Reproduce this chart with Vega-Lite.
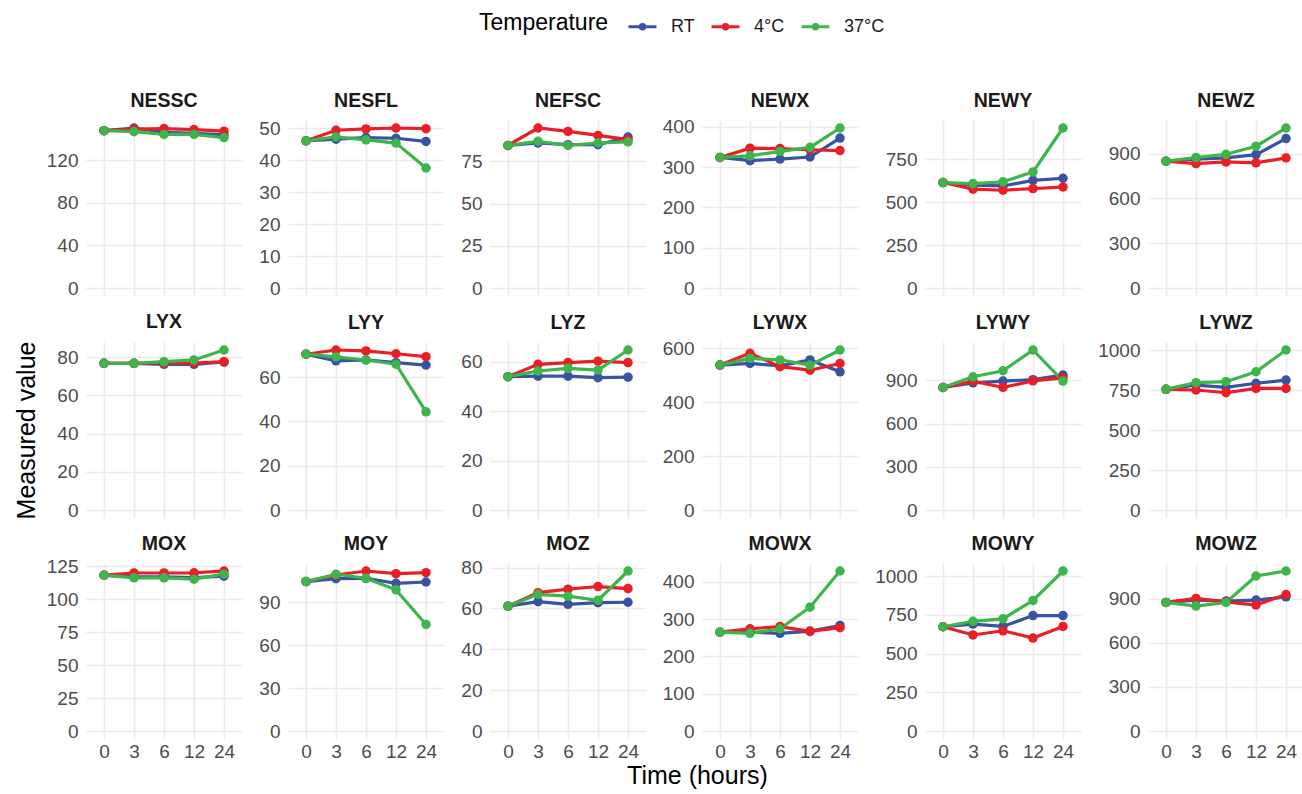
{
"$schema":"https://vega.github.io/schema/vega-lite/v6.json",
"padding":{"left":14,"top":11,"right":0,"bottom":0},
"background":"white",
"data":{"values":[
{"panel":"NESSC","temp":"RT","time":"0","value":148},{"panel":"NESSC","temp":"RT","time":"3","value":150.5},{"panel":"NESSC","temp":"RT","time":"6","value":146.5},{"panel":"NESSC","temp":"RT","time":"12","value":145.5},{"panel":"NESSC","temp":"RT","time":"24","value":144},
{"panel":"NESSC","temp":"4°C","time":"0","value":148},{"panel":"NESSC","temp":"4°C","time":"3","value":149.5},{"panel":"NESSC","temp":"4°C","time":"6","value":150},{"panel":"NESSC","temp":"4°C","time":"12","value":149},{"panel":"NESSC","temp":"4°C","time":"24","value":147.5},
{"panel":"NESSC","temp":"37°C","time":"0","value":148},{"panel":"NESSC","temp":"37°C","time":"3","value":147},{"panel":"NESSC","temp":"37°C","time":"6","value":144.5},{"panel":"NESSC","temp":"37°C","time":"12","value":144.5},{"panel":"NESSC","temp":"37°C","time":"24","value":141.5},
{"panel":"NESFL","temp":"RT","time":"0","value":46},{"panel":"NESFL","temp":"RT","time":"3","value":46.5},{"panel":"NESFL","temp":"RT","time":"6","value":47},{"panel":"NESFL","temp":"RT","time":"12","value":46.8},{"panel":"NESFL","temp":"RT","time":"24","value":45.8},
{"panel":"NESFL","temp":"4°C","time":"0","value":46},{"panel":"NESFL","temp":"4°C","time":"3","value":49.3},{"panel":"NESFL","temp":"4°C","time":"6","value":49.7},{"panel":"NESFL","temp":"4°C","time":"12","value":50},{"panel":"NESFL","temp":"4°C","time":"24","value":49.8},
{"panel":"NESFL","temp":"37°C","time":"0","value":46},{"panel":"NESFL","temp":"37°C","time":"3","value":47.2},{"panel":"NESFL","temp":"37°C","time":"6","value":46.3},{"panel":"NESFL","temp":"37°C","time":"12","value":45.3},{"panel":"NESFL","temp":"37°C","time":"24","value":37.5},
{"panel":"NEFSC","temp":"RT","time":"0","value":84.5},{"panel":"NEFSC","temp":"RT","time":"3","value":85.9},{"panel":"NEFSC","temp":"RT","time":"6","value":84.9},{"panel":"NEFSC","temp":"RT","time":"12","value":84.9},{"panel":"NEFSC","temp":"RT","time":"24","value":89.4},
{"panel":"NEFSC","temp":"4°C","time":"0","value":84.5},{"panel":"NEFSC","temp":"4°C","time":"3","value":94.8},{"panel":"NEFSC","temp":"4°C","time":"6","value":92.8},{"panel":"NEFSC","temp":"4°C","time":"12","value":90.4},{"panel":"NEFSC","temp":"4°C","time":"24","value":87.9},
{"panel":"NEFSC","temp":"37°C","time":"0","value":84.5},{"panel":"NEFSC","temp":"37°C","time":"3","value":86.9},{"panel":"NEFSC","temp":"37°C","time":"6","value":84.5},{"panel":"NEFSC","temp":"37°C","time":"12","value":85.9},{"panel":"NEFSC","temp":"37°C","time":"24","value":86.5},
{"panel":"NEWX","temp":"RT","time":"0","value":324},{"panel":"NEWX","temp":"RT","time":"3","value":316},{"panel":"NEWX","temp":"RT","time":"6","value":320},{"panel":"NEWX","temp":"RT","time":"12","value":325},{"panel":"NEWX","temp":"RT","time":"24","value":372},
{"panel":"NEWX","temp":"4°C","time":"0","value":324},{"panel":"NEWX","temp":"4°C","time":"3","value":347},{"panel":"NEWX","temp":"4°C","time":"6","value":346},{"panel":"NEWX","temp":"4°C","time":"12","value":343},{"panel":"NEWX","temp":"4°C","time":"24","value":341},
{"panel":"NEWX","temp":"37°C","time":"0","value":324},{"panel":"NEWX","temp":"37°C","time":"3","value":328},{"panel":"NEWX","temp":"37°C","time":"6","value":339},{"panel":"NEWX","temp":"37°C","time":"12","value":349},{"panel":"NEWX","temp":"37°C","time":"24","value":397},
{"panel":"NEWY","temp":"RT","time":"0","value":615},{"panel":"NEWY","temp":"RT","time":"3","value":600},{"panel":"NEWY","temp":"RT","time":"6","value":595},{"panel":"NEWY","temp":"RT","time":"12","value":628},{"panel":"NEWY","temp":"RT","time":"24","value":640},
{"panel":"NEWY","temp":"4°C","time":"0","value":615},{"panel":"NEWY","temp":"4°C","time":"3","value":576},{"panel":"NEWY","temp":"4°C","time":"6","value":570},{"panel":"NEWY","temp":"4°C","time":"12","value":580},{"panel":"NEWY","temp":"4°C","time":"24","value":589},
{"panel":"NEWY","temp":"37°C","time":"0","value":615},{"panel":"NEWY","temp":"37°C","time":"3","value":609},{"panel":"NEWY","temp":"37°C","time":"6","value":619},{"panel":"NEWY","temp":"37°C","time":"12","value":677},{"panel":"NEWY","temp":"37°C","time":"24","value":933},
{"panel":"NEWZ","temp":"RT","time":"0","value":849},{"panel":"NEWZ","temp":"RT","time":"3","value":862},{"panel":"NEWZ","temp":"RT","time":"6","value":871},{"panel":"NEWZ","temp":"RT","time":"12","value":893},{"panel":"NEWZ","temp":"RT","time":"24","value":1000},
{"panel":"NEWZ","temp":"4°C","time":"0","value":849},{"panel":"NEWZ","temp":"4°C","time":"3","value":833},{"panel":"NEWZ","temp":"4°C","time":"6","value":844},{"panel":"NEWZ","temp":"4°C","time":"12","value":838},{"panel":"NEWZ","temp":"4°C","time":"24","value":871},
{"panel":"NEWZ","temp":"37°C","time":"0","value":849},{"panel":"NEWZ","temp":"37°C","time":"3","value":873},{"panel":"NEWZ","temp":"37°C","time":"6","value":895},{"panel":"NEWZ","temp":"37°C","time":"12","value":949},{"panel":"NEWZ","temp":"37°C","time":"24","value":1071},
{"panel":"LYX","temp":"RT","time":"0","value":76.8},{"panel":"LYX","temp":"RT","time":"3","value":76.8},{"panel":"LYX","temp":"RT","time":"6","value":76.3},{"panel":"LYX","temp":"RT","time":"12","value":76.3},{"panel":"LYX","temp":"RT","time":"24","value":77.5},
{"panel":"LYX","temp":"4°C","time":"0","value":76.8},{"panel":"LYX","temp":"4°C","time":"3","value":76.8},{"panel":"LYX","temp":"4°C","time":"6","value":77},{"panel":"LYX","temp":"4°C","time":"12","value":77},{"panel":"LYX","temp":"4°C","time":"24","value":77.7},
{"panel":"LYX","temp":"37°C","time":"0","value":76.8},{"panel":"LYX","temp":"37°C","time":"3","value":76.8},{"panel":"LYX","temp":"37°C","time":"6","value":77.7},{"panel":"LYX","temp":"37°C","time":"12","value":78.6},{"panel":"LYX","temp":"37°C","time":"24","value":83.8},
{"panel":"LYY","temp":"RT","time":"0","value":70.3},{"panel":"LYY","temp":"RT","time":"3","value":67.3},{"panel":"LYY","temp":"RT","time":"6","value":67.7},{"panel":"LYY","temp":"RT","time":"12","value":66.5},{"panel":"LYY","temp":"RT","time":"24","value":65.4},
{"panel":"LYY","temp":"4°C","time":"0","value":70.3},{"panel":"LYY","temp":"4°C","time":"3","value":72.2},{"panel":"LYY","temp":"4°C","time":"6","value":71.8},{"panel":"LYY","temp":"4°C","time":"12","value":70.5},{"panel":"LYY","temp":"4°C","time":"24","value":69.2},
{"panel":"LYY","temp":"37°C","time":"0","value":70.3},{"panel":"LYY","temp":"37°C","time":"3","value":69.1},{"panel":"LYY","temp":"37°C","time":"6","value":67.7},{"panel":"LYY","temp":"37°C","time":"12","value":65.8},{"panel":"LYY","temp":"37°C","time":"24","value":44.3},
{"panel":"LYZ","temp":"RT","time":"0","value":53.9},{"panel":"LYZ","temp":"RT","time":"3","value":54.1},{"panel":"LYZ","temp":"RT","time":"6","value":54.1},{"panel":"LYZ","temp":"RT","time":"12","value":53.5},{"panel":"LYZ","temp":"RT","time":"24","value":53.7},
{"panel":"LYZ","temp":"4°C","time":"0","value":53.9},{"panel":"LYZ","temp":"4°C","time":"3","value":58.9},{"panel":"LYZ","temp":"4°C","time":"6","value":59.6},{"panel":"LYZ","temp":"4°C","time":"12","value":60.2},{"panel":"LYZ","temp":"4°C","time":"24","value":59.6},
{"panel":"LYZ","temp":"37°C","time":"0","value":53.9},{"panel":"LYZ","temp":"37°C","time":"3","value":56.2},{"panel":"LYZ","temp":"37°C","time":"6","value":57.3},{"panel":"LYZ","temp":"37°C","time":"12","value":56.6},{"panel":"LYZ","temp":"37°C","time":"24","value":64.7},
{"panel":"LYWX","temp":"RT","time":"0","value":538},{"panel":"LYWX","temp":"RT","time":"3","value":544},{"panel":"LYWX","temp":"RT","time":"6","value":535},{"panel":"LYWX","temp":"RT","time":"12","value":557},{"panel":"LYWX","temp":"RT","time":"24","value":513},
{"panel":"LYWX","temp":"4°C","time":"0","value":538},{"panel":"LYWX","temp":"4°C","time":"3","value":582},{"panel":"LYWX","temp":"4°C","time":"6","value":532},{"panel":"LYWX","temp":"4°C","time":"12","value":519},{"panel":"LYWX","temp":"4°C","time":"24","value":544},
{"panel":"LYWX","temp":"37°C","time":"0","value":538},{"panel":"LYWX","temp":"37°C","time":"3","value":563},{"panel":"LYWX","temp":"37°C","time":"6","value":557},{"panel":"LYWX","temp":"37°C","time":"12","value":538},{"panel":"LYWX","temp":"37°C","time":"24","value":594},
{"panel":"LYWY","temp":"RT","time":"0","value":851},{"panel":"LYWY","temp":"RT","time":"3","value":883},{"panel":"LYWY","temp":"RT","time":"6","value":895},{"panel":"LYWY","temp":"RT","time":"12","value":905},{"panel":"LYWY","temp":"RT","time":"24","value":937},
{"panel":"LYWY","temp":"4°C","time":"0","value":851},{"panel":"LYWY","temp":"4°C","time":"3","value":895},{"panel":"LYWY","temp":"4°C","time":"6","value":851},{"panel":"LYWY","temp":"4°C","time":"12","value":897},{"panel":"LYWY","temp":"4°C","time":"24","value":918},
{"panel":"LYWY","temp":"37°C","time":"0","value":851},{"panel":"LYWY","temp":"37°C","time":"3","value":925},{"panel":"LYWY","temp":"37°C","time":"6","value":967},{"panel":"LYWY","temp":"37°C","time":"12","value":1111},{"panel":"LYWY","temp":"37°C","time":"24","value":895},
{"panel":"LYWZ","temp":"RT","time":"0","value":754},{"panel":"LYWZ","temp":"RT","time":"3","value":781},{"panel":"LYWZ","temp":"RT","time":"6","value":767},{"panel":"LYWZ","temp":"RT","time":"12","value":792},{"panel":"LYWZ","temp":"RT","time":"24","value":812},
{"panel":"LYWZ","temp":"4°C","time":"0","value":754},{"panel":"LYWZ","temp":"4°C","time":"3","value":750},{"panel":"LYWZ","temp":"4°C","time":"6","value":733},{"panel":"LYWZ","temp":"4°C","time":"12","value":760},{"panel":"LYWZ","temp":"4°C","time":"24","value":760},
{"panel":"LYWZ","temp":"37°C","time":"0","value":754},{"panel":"LYWZ","temp":"37°C","time":"3","value":796},{"panel":"LYWZ","temp":"37°C","time":"6","value":802},{"panel":"LYWZ","temp":"37°C","time":"12","value":864},{"panel":"LYWZ","temp":"37°C","time":"24","value":1000},
{"panel":"MOX","temp":"RT","time":"0","value":118.2},{"panel":"MOX","temp":"RT","time":"3","value":117},{"panel":"MOX","temp":"RT","time":"6","value":117},{"panel":"MOX","temp":"RT","time":"12","value":116.4},{"panel":"MOX","temp":"RT","time":"24","value":117.5},
{"panel":"MOX","temp":"4°C","time":"0","value":118.2},{"panel":"MOX","temp":"4°C","time":"3","value":119.9},{"panel":"MOX","temp":"4°C","time":"6","value":119.9},{"panel":"MOX","temp":"4°C","time":"12","value":120},{"panel":"MOX","temp":"4°C","time":"24","value":121.4},
{"panel":"MOX","temp":"37°C","time":"0","value":118.2},{"panel":"MOX","temp":"37°C","time":"3","value":116.2},{"panel":"MOX","temp":"37°C","time":"6","value":116.2},{"panel":"MOX","temp":"37°C","time":"12","value":115.2},{"panel":"MOX","temp":"37°C","time":"24","value":119},
{"panel":"MOY","temp":"RT","time":"0","value":104.6},{"panel":"MOY","temp":"RT","time":"3","value":106.6},{"panel":"MOY","temp":"RT","time":"6","value":106.9},{"panel":"MOY","temp":"RT","time":"12","value":103.4},{"panel":"MOY","temp":"RT","time":"24","value":104.3},
{"panel":"MOY","temp":"4°C","time":"0","value":104.6},{"panel":"MOY","temp":"4°C","time":"3","value":109.2},{"panel":"MOY","temp":"4°C","time":"6","value":112},{"panel":"MOY","temp":"4°C","time":"12","value":110.1},{"panel":"MOY","temp":"4°C","time":"24","value":110.8},
{"panel":"MOY","temp":"37°C","time":"0","value":104.6},{"panel":"MOY","temp":"37°C","time":"3","value":109.7},{"panel":"MOY","temp":"37°C","time":"6","value":106.9},{"panel":"MOY","temp":"37°C","time":"12","value":98.8},{"panel":"MOY","temp":"37°C","time":"24","value":74.6},
{"panel":"MOZ","temp":"RT","time":"0","value":61.1},{"panel":"MOZ","temp":"RT","time":"3","value":63.3},{"panel":"MOZ","temp":"RT","time":"6","value":62},{"panel":"MOZ","temp":"RT","time":"12","value":62.8},{"panel":"MOZ","temp":"RT","time":"24","value":63},
{"panel":"MOZ","temp":"4°C","time":"0","value":61.1},{"panel":"MOZ","temp":"4°C","time":"3","value":67.7},{"panel":"MOZ","temp":"4°C","time":"6","value":69.4},{"panel":"MOZ","temp":"4°C","time":"12","value":70.7},{"panel":"MOZ","temp":"4°C","time":"24","value":69.7},
{"panel":"MOZ","temp":"37°C","time":"0","value":61.1},{"panel":"MOZ","temp":"37°C","time":"3","value":66.9},{"panel":"MOZ","temp":"37°C","time":"6","value":66},{"panel":"MOZ","temp":"37°C","time":"12","value":64},{"panel":"MOZ","temp":"37°C","time":"24","value":78.3},
{"panel":"MOWX","temp":"RT","time":"0","value":265},{"panel":"MOWX","temp":"RT","time":"3","value":265},{"panel":"MOWX","temp":"RT","time":"6","value":262},{"panel":"MOWX","temp":"RT","time":"12","value":268},{"panel":"MOWX","temp":"RT","time":"24","value":283},
{"panel":"MOWX","temp":"4°C","time":"0","value":265},{"panel":"MOWX","temp":"4°C","time":"3","value":274},{"panel":"MOWX","temp":"4°C","time":"6","value":280},{"panel":"MOWX","temp":"4°C","time":"12","value":267},{"panel":"MOWX","temp":"4°C","time":"24","value":277},
{"panel":"MOWX","temp":"37°C","time":"0","value":265},{"panel":"MOWX","temp":"37°C","time":"3","value":262},{"panel":"MOWX","temp":"37°C","time":"6","value":274},{"panel":"MOWX","temp":"37°C","time":"12","value":332},{"panel":"MOWX","temp":"37°C","time":"24","value":429},
{"panel":"MOWY","temp":"RT","time":"0","value":673},{"panel":"MOWY","temp":"RT","time":"3","value":690},{"panel":"MOWY","temp":"RT","time":"6","value":675},{"panel":"MOWY","temp":"RT","time":"12","value":745},{"panel":"MOWY","temp":"RT","time":"24","value":745},
{"panel":"MOWY","temp":"4°C","time":"0","value":673},{"panel":"MOWY","temp":"4°C","time":"3","value":620},{"panel":"MOWY","temp":"4°C","time":"6","value":647},{"panel":"MOWY","temp":"4°C","time":"12","value":600},{"panel":"MOWY","temp":"4°C","time":"24","value":675},
{"panel":"MOWY","temp":"37°C","time":"0","value":673},{"panel":"MOWY","temp":"37°C","time":"3","value":708},{"panel":"MOWY","temp":"37°C","time":"6","value":724},{"panel":"MOWY","temp":"37°C","time":"12","value":843},{"panel":"MOWY","temp":"37°C","time":"24","value":1033},
{"panel":"MOWZ","temp":"RT","time":"0","value":876},{"panel":"MOWZ","temp":"RT","time":"3","value":892},{"panel":"MOWZ","temp":"RT","time":"6","value":885},{"panel":"MOWZ","temp":"RT","time":"12","value":892},{"panel":"MOWZ","temp":"RT","time":"24","value":914},
{"panel":"MOWZ","temp":"4°C","time":"0","value":876},{"panel":"MOWZ","temp":"4°C","time":"3","value":903},{"panel":"MOWZ","temp":"4°C","time":"6","value":880},{"panel":"MOWZ","temp":"4°C","time":"12","value":858},{"panel":"MOWZ","temp":"4°C","time":"24","value":930},
{"panel":"MOWZ","temp":"37°C","time":"0","value":876},{"panel":"MOWZ","temp":"37°C","time":"3","value":851},{"panel":"MOWZ","temp":"37°C","time":"6","value":876},{"panel":"MOWZ","temp":"37°C","time":"12","value":1056},{"panel":"MOWZ","temp":"37°C","time":"24","value":1090}
]},
"title":{"text":"Time (hours)","orient":"bottom","anchor":"middle","frame":"bounds","fontSize":25,"fontWeight":"normal","color":"#000000","offset":3,"dx":38},
"columns":6,
"spacing":{"row":13,"column":16},
"concat":[
{"title":{"text":"NESSC"},"width":156,"height":176,"transform":[{"filter":"datum.panel === 'NESSC'"}],"mark":{"type":"line","strokeWidth":3.2,"point":{"filled":true,"size":90,"opacity":1}},
 "encoding":{"x":{"field":"time","type":"ordinal","sort":null,"scale":{"domain":["0","3","6","12","24"],"padding":0.6},"axis":{"labels":false,"title":null}},
 "y":{"field":"value","type":"quantitative","scale":{"zero":true,"nice":false,"padding":8},"axis":{"values":[0,40,80,120],"title":null}},
 "color":{"field":"temp","type":"nominal","scale":{"domain":["RT","4°C","37°C"],"range":["#3A52A3","#EB1E25","#3DB54A"]},"legend":{"title":"Temperature","orient":"none","legendX":393,"legendY":-109,"direction":"horizontal","titleOrient":"left","titleFontSize":23,"titleFontWeight":"normal","titleColor":"#000000","titlePadding":18,"labelFontSize":18,"labelColor":"#1A1A1A","labelOffset":13,"columnPadding":10,"symbolType":"M-1,0L1,0M0.16,0A0.16,0.16,0,1,1,-0.16,0A0.16,0.16,0,1,1,0.16,0","symbolSize":780,"symbolStrokeWidth":3}}}},
{"title":{"text":"NESFL","dy":1.5},"width":156,"height":176,"transform":[{"filter":"datum.panel === 'NESFL'"}],"mark":{"type":"line","strokeWidth":3.2,"point":{"filled":true,"size":90,"opacity":1}},
 "encoding":{"x":{"field":"time","type":"ordinal","sort":null,"scale":{"domain":["0","3","6","12","24"],"padding":0.6},"axis":{"labels":false,"title":null}},
 "y":{"field":"value","type":"quantitative","scale":{"zero":true,"nice":false,"padding":8},"axis":{"values":[0,10,20,30,40,50],"title":null}},
 "color":{"field":"temp","type":"nominal","scale":{"domain":["RT","4°C","37°C"],"range":["#3A52A3","#EB1E25","#3DB54A"]}}}},
{"title":{"text":"NEFSC"},"width":156,"height":176,"transform":[{"filter":"datum.panel === 'NEFSC'"}],"mark":{"type":"line","strokeWidth":3.2,"point":{"filled":true,"size":90,"opacity":1}},
 "encoding":{"x":{"field":"time","type":"ordinal","sort":null,"scale":{"domain":["0","3","6","12","24"],"padding":0.6},"axis":{"labels":false,"title":null}},
 "y":{"field":"value","type":"quantitative","scale":{"zero":true,"nice":false,"padding":8},"axis":{"values":[0,25,50,75],"title":null}},
 "color":{"field":"temp","type":"nominal","scale":{"domain":["RT","4°C","37°C"],"range":["#3A52A3","#EB1E25","#3DB54A"]}}}},
{"title":{"text":"NEWX","dy":2.7},"width":156,"height":176,"transform":[{"filter":"datum.panel === 'NEWX'"}],"mark":{"type":"line","strokeWidth":3.2,"point":{"filled":true,"size":90,"opacity":1}},
 "encoding":{"x":{"field":"time","type":"ordinal","sort":null,"scale":{"domain":["0","3","6","12","24"],"padding":0.6},"axis":{"labels":false,"title":null}},
 "y":{"field":"value","type":"quantitative","scale":{"zero":true,"nice":false,"padding":8},"axis":{"values":[0,100,200,300,400],"title":null}},
 "color":{"field":"temp","type":"nominal","scale":{"domain":["RT","4°C","37°C"],"range":["#3A52A3","#EB1E25","#3DB54A"]}}}},
{"title":{"text":"NEWY"},"width":156,"height":176,"transform":[{"filter":"datum.panel === 'NEWY'"}],"mark":{"type":"line","strokeWidth":3.2,"point":{"filled":true,"size":90,"opacity":1}},
 "encoding":{"x":{"field":"time","type":"ordinal","sort":null,"scale":{"domain":["0","3","6","12","24"],"padding":0.6},"axis":{"labels":false,"title":null}},
 "y":{"field":"value","type":"quantitative","scale":{"zero":true,"nice":false,"padding":8},"axis":{"values":[0,250,500,750],"title":null}},
 "color":{"field":"temp","type":"nominal","scale":{"domain":["RT","4°C","37°C"],"range":["#3A52A3","#EB1E25","#3DB54A"]}}}},
{"title":{"text":"NEWZ"},"width":156,"height":176,"transform":[{"filter":"datum.panel === 'NEWZ'"}],"mark":{"type":"line","strokeWidth":3.2,"point":{"filled":true,"size":90,"opacity":1}},
 "encoding":{"x":{"field":"time","type":"ordinal","sort":null,"scale":{"domain":["0","3","6","12","24"],"padding":0.6},"axis":{"labels":false,"title":null}},
 "y":{"field":"value","type":"quantitative","scale":{"zero":true,"nice":false,"padding":8},"axis":{"values":[0,300,600,900],"title":null}},
 "color":{"field":"temp","type":"nominal","scale":{"domain":["RT","4°C","37°C"],"range":["#3A52A3","#EB1E25","#3DB54A"]}}}},
{"title":{"text":"LYX"},"width":156,"height":176,"transform":[{"filter":"datum.panel === 'LYX'"}],"mark":{"type":"line","strokeWidth":3.2,"point":{"filled":true,"size":90,"opacity":1}},
 "encoding":{"x":{"field":"time","type":"ordinal","sort":null,"scale":{"domain":["0","3","6","12","24"],"padding":0.6},"axis":{"labels":false,"title":null}},
 "y":{"field":"value","type":"quantitative","scale":{"zero":true,"nice":false,"padding":8},"axis":{"values":[0,20,40,60,80],"title":"Measured value","titlePadding":17}},
 "color":{"field":"temp","type":"nominal","scale":{"domain":["RT","4°C","37°C"],"range":["#3A52A3","#EB1E25","#3DB54A"]}}}},
{"title":{"text":"LYY"},"width":156,"height":176,"transform":[{"filter":"datum.panel === 'LYY'"}],"mark":{"type":"line","strokeWidth":3.2,"point":{"filled":true,"size":90,"opacity":1}},
 "encoding":{"x":{"field":"time","type":"ordinal","sort":null,"scale":{"domain":["0","3","6","12","24"],"padding":0.6},"axis":{"labels":false,"title":null}},
 "y":{"field":"value","type":"quantitative","scale":{"zero":true,"nice":false,"padding":8},"axis":{"values":[0,20,40,60],"title":null}},
 "color":{"field":"temp","type":"nominal","scale":{"domain":["RT","4°C","37°C"],"range":["#3A52A3","#EB1E25","#3DB54A"]}}}},
{"title":{"text":"LYZ"},"width":156,"height":176,"transform":[{"filter":"datum.panel === 'LYZ'"}],"mark":{"type":"line","strokeWidth":3.2,"point":{"filled":true,"size":90,"opacity":1}},
 "encoding":{"x":{"field":"time","type":"ordinal","sort":null,"scale":{"domain":["0","3","6","12","24"],"padding":0.6},"axis":{"labels":false,"title":null}},
 "y":{"field":"value","type":"quantitative","scale":{"zero":true,"nice":false,"padding":8},"axis":{"values":[0,20,40,60],"title":null}},
 "color":{"field":"temp","type":"nominal","scale":{"domain":["RT","4°C","37°C"],"range":["#3A52A3","#EB1E25","#3DB54A"]}}}},
{"title":{"text":"LYWX","dy":3.1},"width":156,"height":176,"transform":[{"filter":"datum.panel === 'LYWX'"}],"mark":{"type":"line","strokeWidth":3.2,"point":{"filled":true,"size":90,"opacity":1}},
 "encoding":{"x":{"field":"time","type":"ordinal","sort":null,"scale":{"domain":["0","3","6","12","24"],"padding":0.6},"axis":{"labels":false,"title":null}},
 "y":{"field":"value","type":"quantitative","scale":{"zero":true,"nice":false,"padding":8},"axis":{"values":[0,200,400,600],"title":null}},
 "color":{"field":"temp","type":"nominal","scale":{"domain":["RT","4°C","37°C"],"range":["#3A52A3","#EB1E25","#3DB54A"]}}}},
{"title":{"text":"LYWY"},"width":156,"height":176,"transform":[{"filter":"datum.panel === 'LYWY'"}],"mark":{"type":"line","strokeWidth":3.2,"point":{"filled":true,"size":90,"opacity":1}},
 "encoding":{"x":{"field":"time","type":"ordinal","sort":null,"scale":{"domain":["0","3","6","12","24"],"padding":0.6},"axis":{"labels":false,"title":null}},
 "y":{"field":"value","type":"quantitative","scale":{"zero":true,"nice":false,"padding":8},"axis":{"values":[0,300,600,900],"title":null}},
 "color":{"field":"temp","type":"nominal","scale":{"domain":["RT","4°C","37°C"],"range":["#3A52A3","#EB1E25","#3DB54A"]}}}},
{"title":{"text":"LYWZ","dy":1.5},"width":156,"height":176,"transform":[{"filter":"datum.panel === 'LYWZ'"}],"mark":{"type":"line","strokeWidth":3.2,"point":{"filled":true,"size":90,"opacity":1}},
 "encoding":{"x":{"field":"time","type":"ordinal","sort":null,"scale":{"domain":["0","3","6","12","24"],"padding":0.6},"axis":{"labels":false,"title":null}},
 "y":{"field":"value","type":"quantitative","scale":{"zero":true,"nice":false,"padding":8},"axis":{"values":[0,250,500,750,1000],"format":"d","title":null}},
 "color":{"field":"temp","type":"nominal","scale":{"domain":["RT","4°C","37°C"],"range":["#3A52A3","#EB1E25","#3DB54A"]}}}},
{"title":{"text":"MOX","dy":6.2},"width":156,"height":176,"transform":[{"filter":"datum.panel === 'MOX'"}],"mark":{"type":"line","strokeWidth":3.2,"point":{"filled":true,"size":90,"opacity":1}},
 "encoding":{"x":{"field":"time","type":"ordinal","sort":null,"scale":{"domain":["0","3","6","12","24"],"padding":0.6},"axis":{"labelAngle":0,"title":null}},
 "y":{"field":"value","type":"quantitative","scale":{"zero":true,"nice":false,"padding":8},"axis":{"values":[0,25,50,75,100,125],"title":null}},
 "color":{"field":"temp","type":"nominal","scale":{"domain":["RT","4°C","37°C"],"range":["#3A52A3","#EB1E25","#3DB54A"]}}}},
{"title":{"text":"MOY"},"width":156,"height":176,"transform":[{"filter":"datum.panel === 'MOY'"}],"mark":{"type":"line","strokeWidth":3.2,"point":{"filled":true,"size":90,"opacity":1}},
 "encoding":{"x":{"field":"time","type":"ordinal","sort":null,"scale":{"domain":["0","3","6","12","24"],"padding":0.6},"axis":{"labelAngle":0,"title":null}},
 "y":{"field":"value","type":"quantitative","scale":{"zero":true,"nice":false,"padding":8},"axis":{"values":[0,30,60,90],"title":null}},
 "color":{"field":"temp","type":"nominal","scale":{"domain":["RT","4°C","37°C"],"range":["#3A52A3","#EB1E25","#3DB54A"]}}}},
{"title":{"text":"MOZ","dy":5},"width":156,"height":176,"transform":[{"filter":"datum.panel === 'MOZ'"}],"mark":{"type":"line","strokeWidth":3.2,"point":{"filled":true,"size":90,"opacity":1}},
 "encoding":{"x":{"field":"time","type":"ordinal","sort":null,"scale":{"domain":["0","3","6","12","24"],"padding":0.6},"axis":{"labelAngle":0,"title":null}},
 "y":{"field":"value","type":"quantitative","scale":{"zero":true,"nice":false,"padding":8},"axis":{"values":[0,20,40,60,80],"title":null}},
 "color":{"field":"temp","type":"nominal","scale":{"domain":["RT","4°C","37°C"],"range":["#3A52A3","#EB1E25","#3DB54A"]}}}},
{"title":{"text":"MOWX"},"width":156,"height":176,"transform":[{"filter":"datum.panel === 'MOWX'"}],"mark":{"type":"line","strokeWidth":3.2,"point":{"filled":true,"size":90,"opacity":1}},
 "encoding":{"x":{"field":"time","type":"ordinal","sort":null,"scale":{"domain":["0","3","6","12","24"],"padding":0.6},"axis":{"labelAngle":0,"title":null}},
 "y":{"field":"value","type":"quantitative","scale":{"zero":true,"nice":false,"padding":8},"axis":{"values":[0,100,200,300,400],"title":null}},
 "color":{"field":"temp","type":"nominal","scale":{"domain":["RT","4°C","37°C"],"range":["#3A52A3","#EB1E25","#3DB54A"]}}}},
{"title":{"text":"MOWY"},"width":156,"height":176,"transform":[{"filter":"datum.panel === 'MOWY'"}],"mark":{"type":"line","strokeWidth":3.2,"point":{"filled":true,"size":90,"opacity":1}},
 "encoding":{"x":{"field":"time","type":"ordinal","sort":null,"scale":{"domain":["0","3","6","12","24"],"padding":0.6},"axis":{"labelAngle":0,"title":null}},
 "y":{"field":"value","type":"quantitative","scale":{"zero":true,"nice":false,"padding":8},"axis":{"values":[0,250,500,750,1000],"format":"d","title":null}},
 "color":{"field":"temp","type":"nominal","scale":{"domain":["RT","4°C","37°C"],"range":["#3A52A3","#EB1E25","#3DB54A"]}}}},
{"title":{"text":"MOWZ"},"width":156,"height":176,"transform":[{"filter":"datum.panel === 'MOWZ'"}],"mark":{"type":"line","strokeWidth":3.2,"point":{"filled":true,"size":90,"opacity":1}},
 "encoding":{"x":{"field":"time","type":"ordinal","sort":null,"scale":{"domain":["0","3","6","12","24"],"padding":0.6},"axis":{"labelAngle":0,"title":null}},
 "y":{"field":"value","type":"quantitative","scale":{"zero":true,"nice":false,"padding":8},"axis":{"values":[0,300,600,900],"title":null}},
 "color":{"field":"temp","type":"nominal","scale":{"domain":["RT","4°C","37°C"],"range":["#3A52A3","#EB1E25","#3DB54A"]}}}}
],
"config":{
 "font":"Liberation Sans",
 "view":{"stroke":null},
 "axis":{"domain":false,"ticks":false,"grid":true,"gridColor":"#EBEBEB","gridWidth":1.6,"labelColor":"#4D4D4D","labelFontSize":19,"labelPadding":8,"titleColor":"#000000","titleFontWeight":"normal","titleFontSize":25},
 "axisX":{"labelPadding":3},
 "title":{"fontSize":19.5,"fontWeight":"bold","color":"#1A1A1A","offset":9,"frame":"group"}
}
}
